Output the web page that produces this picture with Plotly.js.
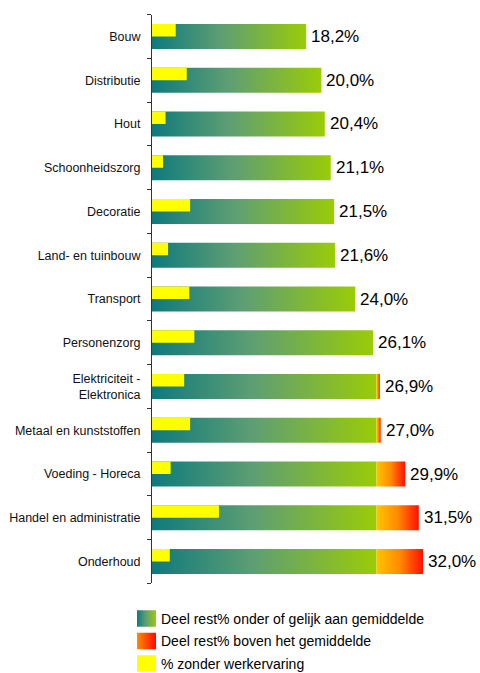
<!DOCTYPE html>
<html>
<head>
<meta charset="utf-8">
<script src="https://cdn.plot.ly/plotly-3.0.1.min.js"></script>
<style>html,body{margin:0;padding:0;background:#fff;}#chart{width:480px;height:673px;}</style>
</head>
<body>
<div id="chart"></div>
<script>
// ---- data ----
const categories = ["Bouw", "Distributie", "Hout", "Schoonheidszorg", "Decoratie",
  "Land- en tuinbouw", "Transport", "Personenzorg", "Elektriciteit -<br>Elektronica",
  "Metaal en kunststoffen", "Voeding - Horeca", "Handel en administratie", "Onderhoud"];
const totalRest = [18.2, 20.0, 20.4, 21.1, 21.5, 21.6, 24.0, 26.1, 26.9, 27.0, 29.9, 31.5, 32.0];
const zonderWerkervaring = [2.8, 4.1, 1.6, 1.3, 4.5, 1.9, 4.4, 5.0, 3.8, 4.5, 2.2, 7.9, 2.1];
const gemiddelde = 26.5;
const valueLabels = ["18,2%", "20,0%", "20,4%", "21,1%", "21,5%", "21,6%", "24,0%",
  "26,1%", "26,9%", "27,0%", "29,9%", "31,5%", "32,0%"];
const legendLabels = ["Deel rest% onder of gelijk aan gemiddelde",
  "Deel rest% boven het gemiddelde", "% zonder werkervaring"];

// ---- styles ----
const FONT = "Liberation Sans, Arial, sans-serif";
const greenScale = [[0, "#0E7A7C"], [0.45, "#5E9E74"], [1, "#9ACC06"]];
const orangeScale = [[0, "#FFC400"], [0.5, "#FF8A00"], [1, "#FF1000"]];
const legendOrangeScale = [[0, "#FF8C00"], [1, "#FF0A00"]];
const YELLOW = "#FFFF00";
const H = 0.286; // half bar thickness (category units)

const traces = [];
function rect(x0, x1, y0, y1) {
  return { x: [x0, x1, x1, x0, x0], y: [y0, y0, y1, y1, y0] };
}
// gradient segments below / above the average
categories.forEach((c, i) => {
  const g = Math.min(totalRest[i], gemiddelde);
  const r = rect(0, g, i - H, i + H);
  traces.push({ type: "scatter", mode: "none", x: r.x, y: r.y, fill: "toself",
    fillgradient: { type: "horizontal", colorscale: greenScale },
    hoverinfo: "skip", showlegend: false });
  if (totalRest[i] > gemiddelde) {
    const o = rect(gemiddelde, totalRest[i], i - H, i + H);
    traces.push({ type: "scatter", mode: "none", x: o.x, y: o.y, fill: "toself",
      fillgradient: { type: "horizontal", colorscale: orangeScale },
      hoverinfo: "skip", showlegend: false });
  }
});
// yellow segments (upper half of each bar)
const yx = [], yy = [];
categories.forEach((c, i) => {
  const r = rect(0, zonderWerkervaring[i], i - H, i);
  yx.push(...r.x, null); yy.push(...r.y, null);
});
traces.push({ type: "scatter", mode: "none", x: yx, y: yy, fill: "toself",
  fillcolor: YELLOW, hoverinfo: "skip", showlegend: false });

// legend swatches on a small auxiliary subplot
const LH = 0.367;
[greenScale, legendOrangeScale, null].forEach((sc, i) => {
  const r = rect(0, 1, i - LH, i + LH);
  const t = { type: "scatter", mode: "none", x: r.x, y: r.y, fill: "toself",
    xaxis: "x2", yaxis: "y2", hoverinfo: "skip", showlegend: false };
  if (sc) t.fillgradient = { type: "horizontal", colorscale: sc };
  else t.fillcolor = YELLOW;
  traces.push(t);
});

const annotations = [];
categories.forEach((c, i) => {
  annotations.push({ x: totalRest[i], y: i, xref: "x", yref: "y", text: valueLabels[i],
    showarrow: false, xanchor: "left", yanchor: "middle", xshift: 3,
    font: { family: FONT, size: 17, color: "#000" } });
});
legendLabels.forEach((t, i) => {
  annotations.push({ x: 159 / 480, y: i, xref: "paper", yref: "y2", text: t,
    showarrow: false, xanchor: "left", yanchor: "middle",
    font: { family: FONT, size: 14, color: "#000" } });
});

const boundaries = categories.map((c, i) => i - 0.5).concat([categories.length - 0.5]);

const layout = {
  width: 480, height: 673,
  margin: { l: 0, r: 0, t: 0, b: 0 },
  paper_bgcolor: "#fff", plot_bgcolor: "rgba(0,0,0,0)",
  showlegend: false,
  font: { family: FONT, color: "#000" },
  xaxis: { domain: [152 / 480, (152 + 36 * 8.47) / 480], range: [0, 36],
    visible: false, fixedrange: true },
  yaxis: { domain: [1 - 583.4 / 673, 1 - 14.6 / 673], range: [12.5, -0.5],
    tickmode: "array", tickvals: categories.map((c, i) => i), ticktext: categories,
    ticks: "", showgrid: false, zeroline: false,
    showline: true, linecolor: "#333", linewidth: 1,
    ticklabelstandoff: 8,
    tickfont: { family: FONT, size: 12.5, color: "#111" },
    minor: { tickmode: "array", tickvals: boundaries, ticks: "outside", ticklen: 4,
      tickwidth: 1, tickcolor: "#333", showgrid: false },
    fixedrange: true },
  xaxis2: { domain: [137 / 480, 156 / 480], range: [0, 1], visible: false,
    anchor: "y2", fixedrange: true },
  yaxis2: { domain: [1 - 672.5 / 673, 1 - 609.5 / 673], range: [2.4, -0.4],
    visible: false, anchor: "x2", fixedrange: true },
  annotations: annotations
};

Plotly.newPlot("chart", traces, layout, { displayModeBar: false, staticPlot: true });
</script>
</body>
</html>
